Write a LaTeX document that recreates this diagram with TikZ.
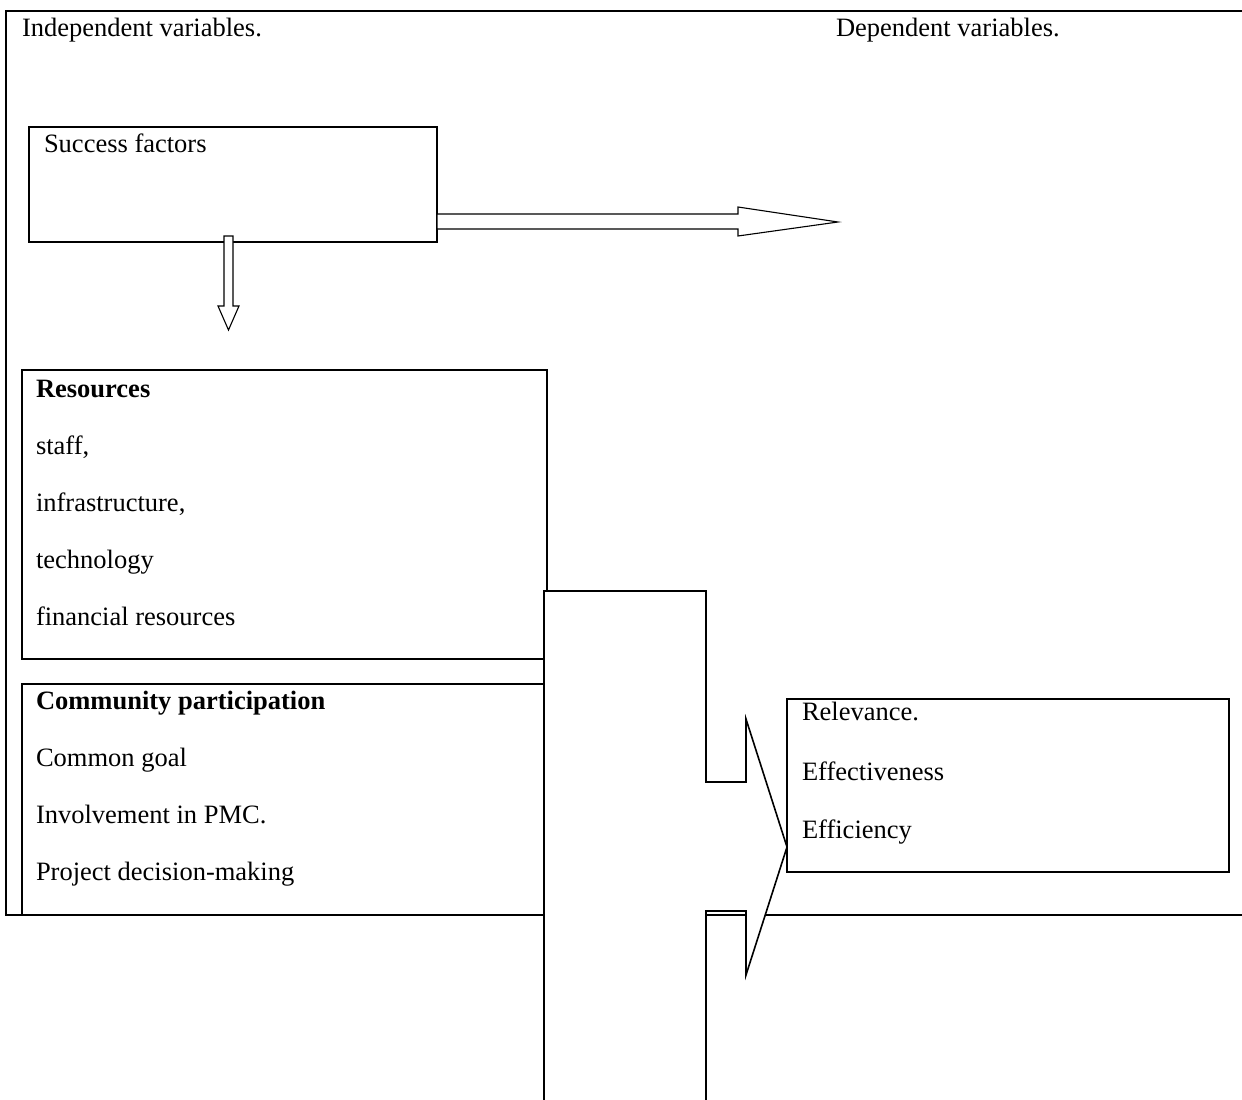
\documentclass[tikz,border=0pt]{standalone}
\usepackage{fontspec}
\setmainfont{Liberation Serif}
\begin{document}
\begin{tikzpicture}[x=1pt,y=-1pt,
  box/.style={draw,line width=1.6pt,fill=white,inner sep=0pt,outer sep=0pt,rectangle},
  txt/.style={anchor=base west,inner sep=0pt,outer sep=0pt,font=\fontsize{26.5}{30}\selectfont},
  btxt/.style={txt,font=\fontsize{26.5}{30}\selectfont\bfseries},
  blockarrow/.style={draw,fill=white,line width=1.1pt,line join=miter},
  bigarrow/.style={draw,fill=white,line width=1.6pt,line join=miter}]
\useasboundingbox (0,0) rectangle (1242,1100);
\clip (0,0) rectangle (1242,1100);
\fill[white] (0,0) rectangle (1242,1100);
% outer frame
\draw[line width=2pt] (1250,11) -- (6,11) -- (6,915) -- (1250,915);
\node[txt] (indep) at (22,36) {Independent variables.};
\node[txt] (dep) at (836,36) {Dependent variables.};
% success factors box
\node[box,minimum width=408pt,minimum height=115pt] (sf) at (233,184.5) {};
\node[txt] (sft) at (44,152) {Success factors};
% resources box
\node[box,minimum width=525pt,minimum height=289pt] (res) at (284.5,514.5) {};
\node[btxt] (r0) at (36,397) {Resources};
\node[txt] (r1) at (36,454) {staff,};
\node[txt] (r2) at (36,511) {infrastructure,};
\node[txt] (r3) at (36,568) {technology};
\node[txt] (r4) at (36,625) {financial resources};
% community box
\node[box,minimum width=522pt,minimum height=231pt] (com) at (283,799.5) {};
\node[btxt] (c0) at (36,709) {Community participation};
\node[txt] (c1) at (36,766) {Common goal};
\node[txt] (c2) at (36,823) {Involvement in PMC.};
\node[txt] (c3) at (36,880) {Project decision-making};
% arrows from success factors
\draw[blockarrow] (437,214) -- (738,214) -- (738,207) -- (838,222) -- (738,236) -- (738,229) -- (437,229) -- cycle;
\draw[blockarrow] (224,236) -- (233,236) -- (233,306) -- (239,306) -- (228.5,330) -- (218,306) -- (224,306) -- cycle;
% big arrow
\draw[bigarrow] (544,1110) -- (544,591) -- (706,591) -- (706,782) -- (746,782) -- (746,719) -- (787,847) -- (746,975) -- (746,911) -- (706,911) -- (706,1110);
% outcome box
\node[box,minimum width=442pt,minimum height=173pt] (out) at (1008,785.5) {};
\node[txt] (o1) at (802,720) {Relevance.};
\node[txt] (o2) at (802,780) {Effectiveness};
\node[txt] (o3) at (802,838) {Efficiency};
\end{tikzpicture}
\end{document}
